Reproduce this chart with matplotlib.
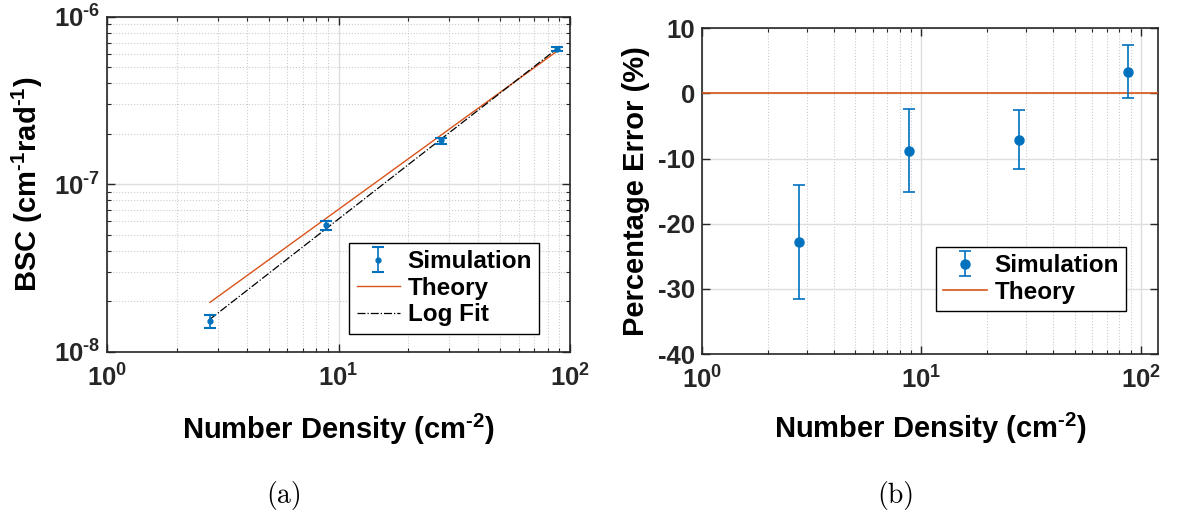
import matplotlib
matplotlib.use('Agg')
import matplotlib.pyplot as plt
import numpy as np
from matplotlib.ticker import FixedLocator, LogLocator, NullFormatter, FuncFormatter

plt.rcParams['font.family'] = 'Liberation Sans'
plt.rcParams['font.weight'] = 'bold'
plt.rcParams['axes.labelweight'] = 'bold'
plt.rcParams['mathtext.fontset'] = 'custom'
plt.rcParams['mathtext.rm'] = 'Liberation Sans:bold'
plt.rcParams['mathtext.it'] = 'Liberation Sans:bold'
plt.rcParams['mathtext.bf'] = 'Liberation Sans:bold'
plt.rcParams['axes.unicode_minus'] = False

# number density of scatterers (cm^-2)
density = [2.78, 8.8, 27.8, 88.0]

# backscatter coefficient from simulation, with error bar limits
bsc_sim = [1.52e-8, 5.68e-8, 1.83e-7, 6.42e-7]
bsc_lo = [1.39e-8, 5.30e-8, 1.74e-7, 6.20e-7]
bsc_hi = [1.66e-8, 6.05e-8, 1.90e-7, 6.60e-7]
bsc_theory = [1.97e-8, 6.23e-8, 1.97e-7, 6.23e-7]

# percentage error of simulation vs theory
pct_err = [-22.8, -8.85, -7.1, 3.35]
pct_lo = [-31.5, -15.2, -11.55, -0.65]
pct_hi = [-14.0, -2.45, -2.6, 7.4]

blue = '#0072BD'
orange = '#D95319'
axcol = '#262626'
HY = '\u2010'  # short hyphen for exponents

W, H = 1179, 517
fig = plt.figure(figsize=(W/100, H/100), dpi=100)
ax1 = fig.add_axes([107.2/W, 1-351.7/H, 462.8/W, 335/H])
ax2 = fig.add_axes([702/W, 1-354/H, 456/W, 325.7/H])

def pow10(v, pos):
    e = int(round(np.log10(v)))
    s = (HY + str(-e)) if e < 0 else str(e)
    return r'$10^{%s}$' % s

def style(ax):
    for s in ax.spines.values():
        s.set_color(axcol)
        s.set_linewidth(1.2)
    ax.tick_params(which='both', direction='in', top=True, right=True, colors=axcol, labelsize=18.5)
    ax.tick_params(which='major', length=6, width=1)
    ax.tick_params(which='minor', length=3, width=0.8)
    ax.tick_params(axis='x', pad=9)
    ax.tick_params(axis='y', pad=5)
    ax.grid(True, which='major', color='#dedede', linewidth=1.0, linestyle='-')
    ax.set_axisbelow(True)

def make_legend(ax, anchor):
    h, l = ax.get_legend_handles_labels()
    order = [l.index(name) for name in ['Simulation', 'Theory', 'Log Fit'] if name in l]
    leg = ax.legend([h[i] for i in order], [l[i] for i in order], loc='lower right',
                    bbox_to_anchor=anchor, fontsize=17.5, fancybox=False, edgecolor='black',
                    framealpha=1, handlelength=1.8, handletextpad=0.3, labelspacing=0.15,
                    borderpad=0.3, borderaxespad=0)
    leg.get_frame().set_linewidth(1.0)

# (a) BSC vs number density
x = np.array(density)
yerr = [np.array(bsc_sim) - np.array(bsc_lo), np.array(bsc_hi) - np.array(bsc_sim)]
ax1.errorbar(x, bsc_sim, yerr=yerr, fmt='o', color=blue, ms=3.5, elinewidth=1.2,
             capsize=4, capthick=1.5, label='Simulation', zorder=4)
ax1.plot(x, bsc_theory, color=orange, lw=1.0, label='Theory', zorder=3)
p = np.polyfit(np.log10(x), np.log10(bsc_sim), 1)
ax1.plot(x, 10**np.polyval(p, np.log10(x)), color='black', lw=0.9, ls='-.',
         label='Log Fit', zorder=3)
ax1.set_xscale('log')
ax1.set_yscale('log')
ax1.set_xlim(1, 100)
ax1.set_ylim(1e-8, 1e-6)
style(ax1)
ax1.grid(True, which='minor', color='#cccccc', linewidth=0.8, linestyle=':')
ax1.xaxis.set_major_locator(FixedLocator([1, 10, 100]))
ax1.yaxis.set_major_locator(FixedLocator([1e-8, 1e-7, 1e-6]))
ax1.xaxis.set_major_formatter(FuncFormatter(pow10))
ax1.yaxis.set_major_formatter(FuncFormatter(pow10))
ax1.xaxis.set_minor_locator(LogLocator(subs=np.arange(2, 10)))
ax1.yaxis.set_minor_locator(LogLocator(subs=np.arange(2, 10)))
ax1.xaxis.set_minor_formatter(NullFormatter())
ax1.yaxis.set_minor_formatter(NullFormatter())
ax1.set_xlabel(r'Number Density (cm$^{%s2}$)' % HY, fontsize=21)
ax1.set_ylabel(r'BSC (cm$^{%s1}$rad$^{%s1}$)' % (HY, HY), fontsize=21)
ax1.xaxis.set_label_coords(0.5, -0.18, transform=ax1.transAxes)
ax1.yaxis.set_label_coords(-0.135, 0.5, transform=ax1.transAxes)
ax1.xaxis.label.set_va('top')
make_legend(ax1, (0.934, 0.054))

# (b) percentage error
perr = [np.array(pct_err) - np.array(pct_lo), np.array(pct_hi) - np.array(pct_err)]
ax2.errorbar(x, pct_err, yerr=perr, fmt='o', color=blue, ms=6.5, elinewidth=1.2,
             capsize=4.5, capthick=1.2, label='Simulation', zorder=4)
ax2.axhline(0, color=orange, lw=1.2, label='Theory', zorder=3)
ax2.set_xscale('log')
ax2.set_xlim(1, 120)
ax2.set_ylim(-40, 10)
style(ax2)
ax2.grid(True, which='minor', axis='x', color='#cccccc', linewidth=0.8, linestyle=':')
ax2.xaxis.set_major_locator(FixedLocator([1, 10, 100]))
ax2.xaxis.set_major_formatter(FuncFormatter(pow10))
ax2.xaxis.set_minor_locator(LogLocator(subs=np.arange(2, 10)))
ax2.xaxis.set_minor_formatter(NullFormatter())
ax2.set_yticks([-40, -30, -20, -10, 0, 10])
ax2.set_xlabel(r'Number Density (cm$^{%s2}$)' % HY, fontsize=21)
ax2.set_ylabel('Percentage Error (%)', fontsize=21)
ax2.xaxis.set_label_coords(0.5, -0.175, transform=ax2.transAxes)
ax2.yaxis.set_label_coords(-0.114, 0.5, transform=ax2.transAxes)
ax2.xaxis.label.set_va('top')
make_legend(ax2, (0.9305, 0.132))

fig.text(284/W, 1-495/H, '(a)', fontfamily='cmr10', fontweight='normal',
         fontsize=20, ha='center', va='center')
fig.text(896/W, 1-495/H, '(b)', fontfamily='cmr10', fontweight='normal',
         fontsize=20, ha='center', va='center')

fig.savefig('out.png', dpi=100)
